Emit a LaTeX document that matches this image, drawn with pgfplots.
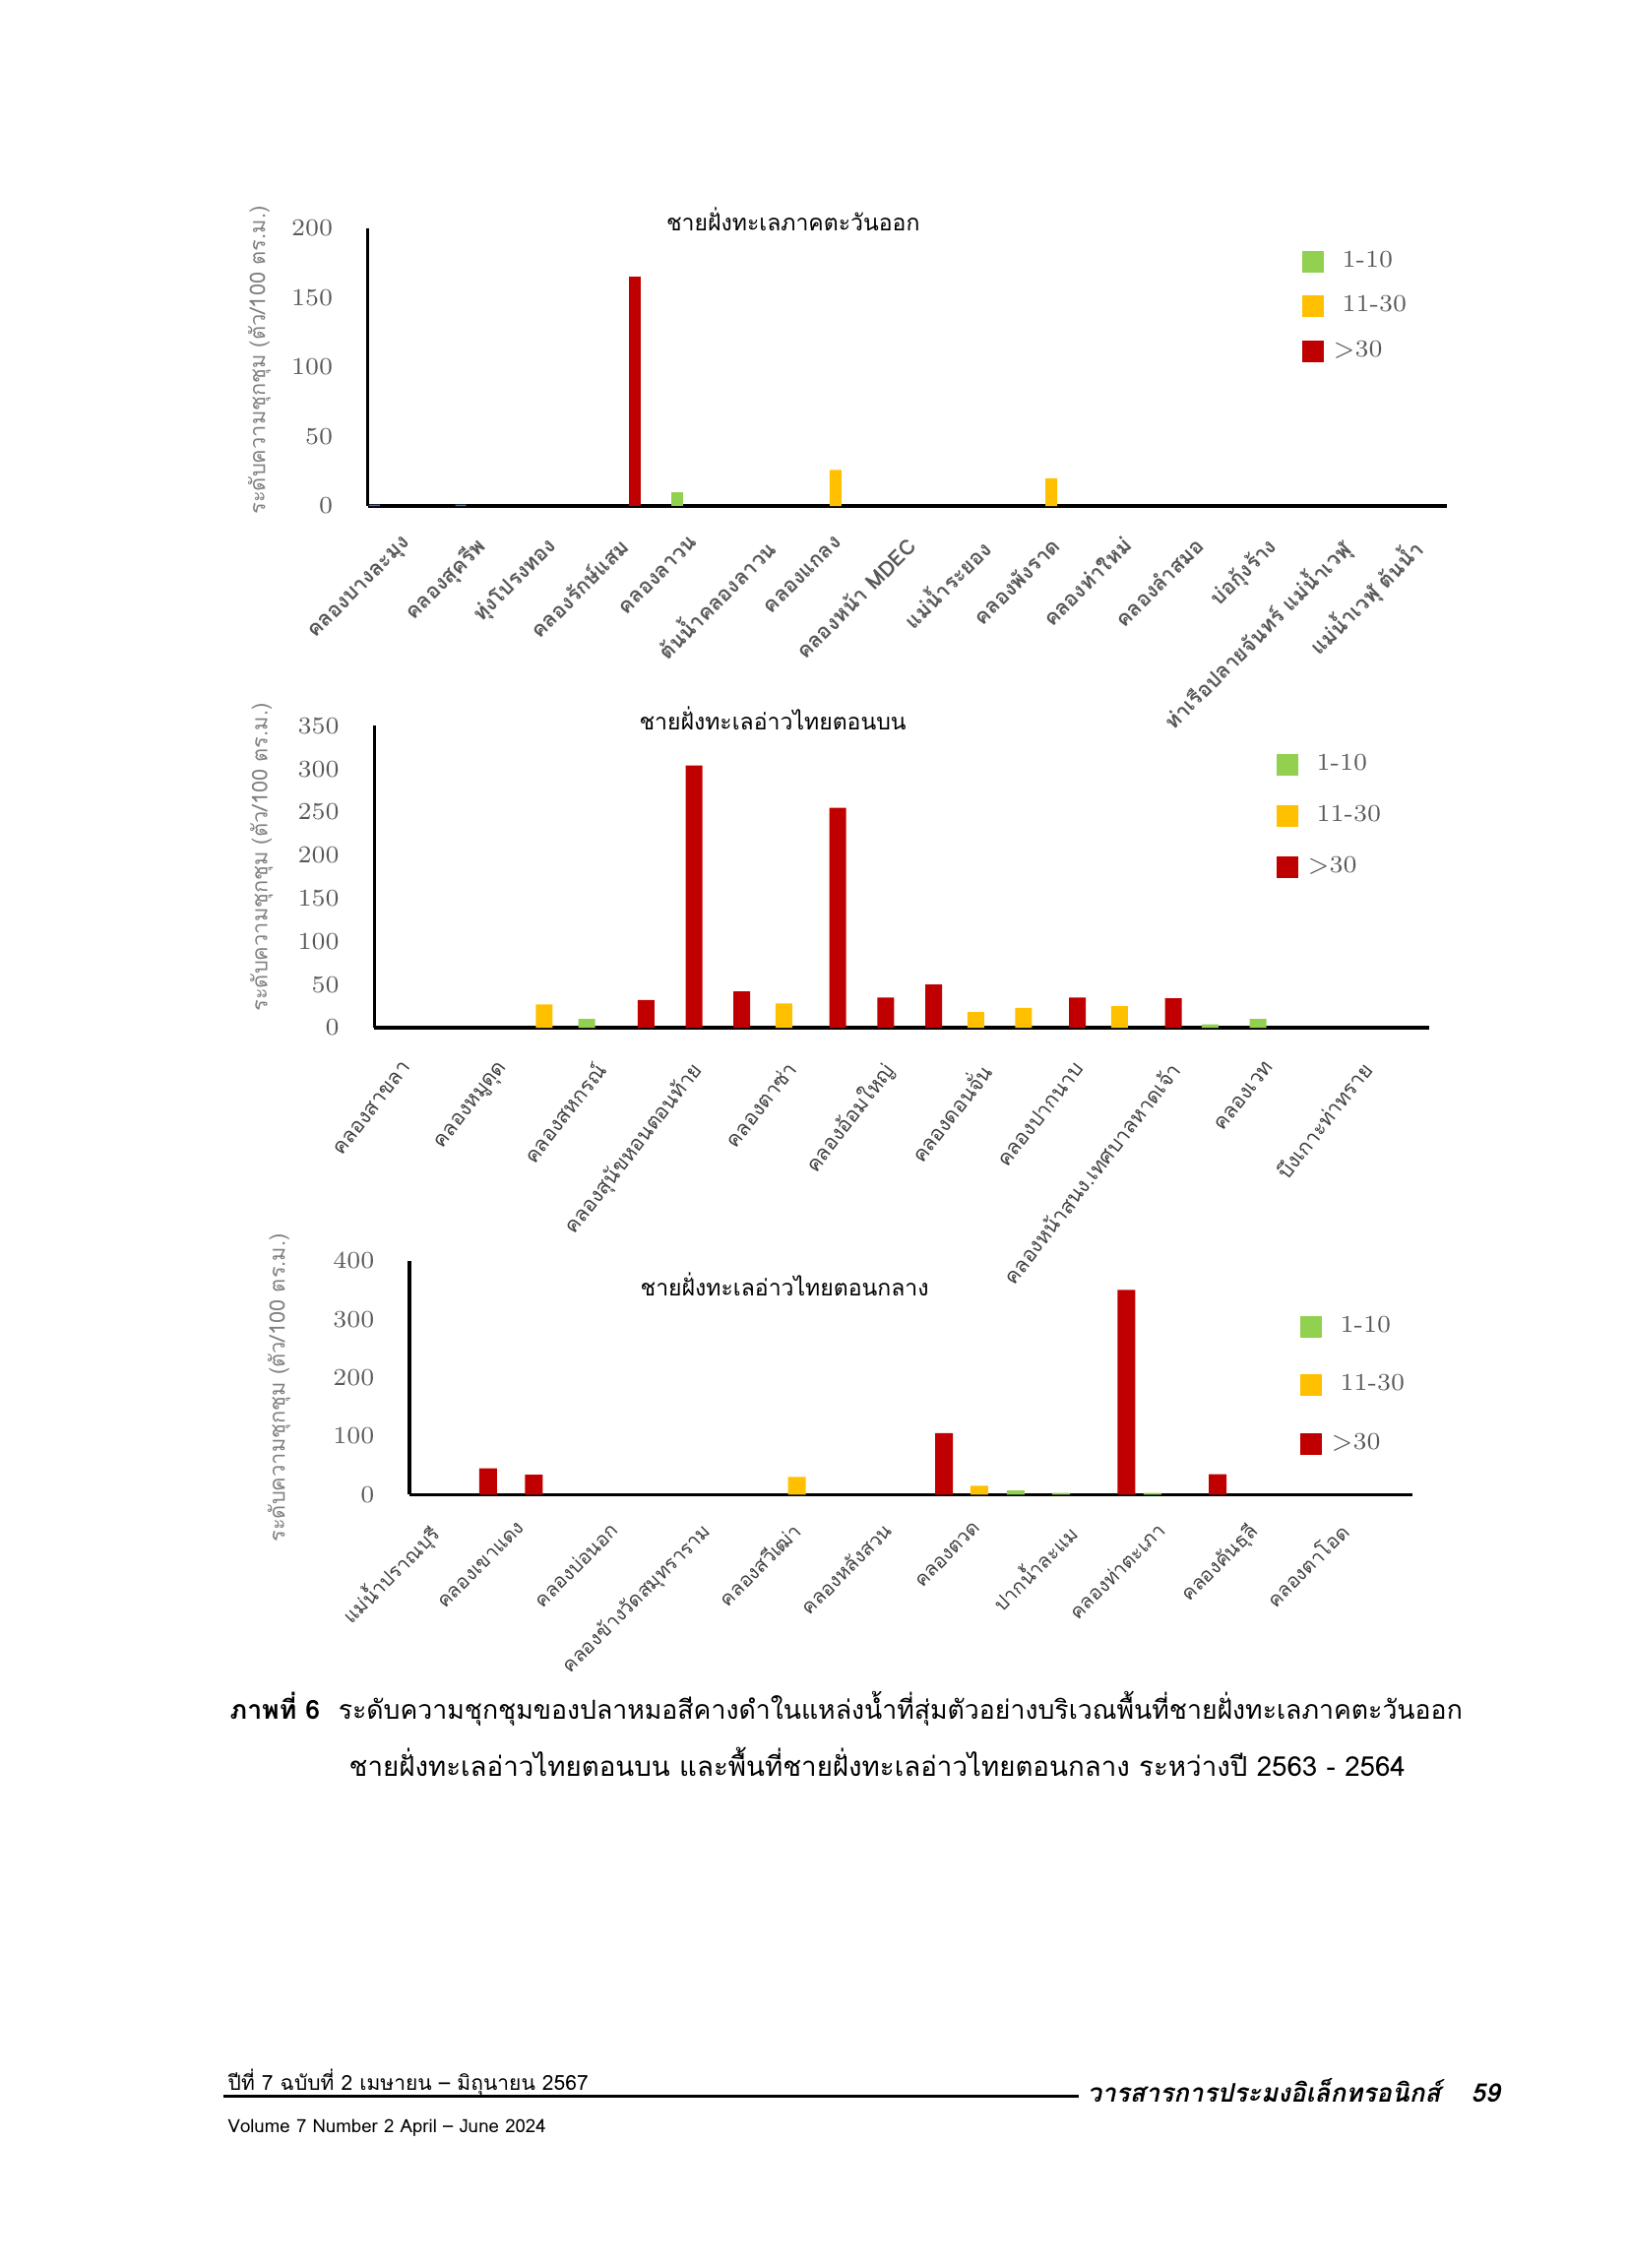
\documentclass[border=0pt]{standalone}
\usepackage{fontspec}
\usepackage{graphicx}
\usepackage{pgfplots}
\pgfplotsset{compat=1.18}
\newfontfamily\thai[Script=Thai]{Loma}
\definecolor{cgreen}{HTML}{92D050}
\definecolor{cyellow}{HTML}{FFC000}
\definecolor{cred}{HTML}{C00000}
\definecolor{cblue}{HTML}{4472C4}
\definecolor{tgray}{HTML}{595959}
\definecolor{dgray}{HTML}{404040}
\definecolor{lgray}{HTML}{808080}

\pgfplotsset{
  page chart/.style={
    scale only axis,
    anchor=south west,
    axis x line=bottom, axis y line=left,
    axis line style={-, black, line width=0.9pt},
    ybar,
    xmin=-0.5, ymin=0,
    major tick length=0pt,
    tick style={draw=none},
    yticklabel style={font=\fontsize{7.2}{8}\selectfont, text=tgray, inner sep=0pt, xshift=-3.5mm},
    /pgf/number format/1000 sep={},
    every axis y label/.style={at={(rel axis cs:-0.1,0.5)}, anchor=center, rotate=90, text=lgray, inner sep=0pt},
    legend style={draw=none, fill=none, inner sep=0pt, anchor=north west,
      font=\fontsize{7}{8}\selectfont, text=tgray, nodes={inner sep=0pt}},
    legend cell align=left,
    title style={font=\thai\fontsize{6.55}{8}\selectfont, anchor=center, inner sep=0pt},
  },
  sq/.style={legend image code/.code={\fill[##1] (0mm,-1.1mm) rectangle (2.2mm,1.1mm);}},
}

\begin{document}
\begin{tikzpicture}
\path[use as bounding box] (0,0) rectangle (165.4mm,-230.4mm);

% ---------------- chart 1 ----------------
\begin{axis}[page chart,
  at={(37.38mm,-51.40mm)}, width=109.64mm, height=28.23mm,
  xmax=14.5, ymax=200, ytick={0,50,...,200},
  xtick={0,...,14},
  xticklabels={คลองบางละมุง, คลองสุครีพ, ทุ่งโปรงทอง, คลองรักษ์แสม, คลองลาวน, ต้นน้ำคลองลาวน, คลองแกลง, คลองหน้า MDEC, แม่น้ำระยอง, คลองพังราด, คลองท่าใหม่, คลองลำสมอ, บ่อกุ้งร้าง, ท่าเรือปลายจันทร์ แม่น้ำเวฬุ, แม่น้ำเวฬุ ต้นน้ำ},
  xticklabel style={font=\thai\bfseries\fontsize{6.1}{7}\selectfont, text=tgray, inner sep=0pt, yshift=-2.9mm, xshift=-0.2mm, rotate=45, anchor=north east},
  title={ชายฝั่งทะเลภาคตะวันออก}, title style={at={(rel axis cs:0.394,0.956)}},
  ylabel={\resizebox{31.3mm}{!}{\thai ระดับความชุกชุม (ตัว/100 ตร.ม.)}},
  ylabel style={at={(rel axis cs:-0.1006,0.524)}},
  legend style={at={(rel axis cs:0.8648,0.921)}, row sep=2.35mm},
]
\addplot[fill=cblue, draw=none, bar width=1.1mm, bar shift=0mm, forget plot] coordinates {(-0.41,1) (0.79,1)};
\addplot[fill=cgreen, draw=none, bar width=1.2mm, bar shift=-1.5mm, sq] coordinates {(4,10)};
\addplot[fill=cyellow, draw=none, bar width=1.2mm, bar shift=0mm, sq] coordinates {(6,26) (9,20)};
\addplot[fill=cred, draw=none, bar width=1.2mm, bar shift=1.5mm, sq] coordinates {(3,165)};
\addlegendentry{\hspace*{1.9mm}1-10}
\addlegendentry{\hspace*{1.9mm}11-30}
\addlegendentry{\hspace*{1.0mm}>30}
\end{axis}

% ---------------- chart 2 ----------------
\begin{axis}[page chart,
  at={(38.04mm,-104.40mm)}, width=107.16mm, height=30.67mm,
  xmax=21.5, ymax=350, ytick={0,50,...,350},
  xtick={0,2,...,20},
  xticklabels={คลองสาขลา, คลองหมูดุด, คลองสหกรณ์, คลองสุนัขหอนตอนท้าย, คลองตาซ่า, คลองอ้อมใหญ่, คลองดอนจั่น, คลองปากนาบ, คลองหน้าสนง.เทศบาลหาดเจ้า, คลองเวท, บึงเกาะท่าทราย},
  xticklabel style={font=\thai\fontsize{6}{7}\selectfont, text=dgray, inner sep=0pt, yshift=-3.2mm, xshift=0.3mm, rotate=52, anchor=north east},
  title={ชายฝั่งทะเลอ่าวไทยตอนบน}, title style={at={(rel axis cs:0.3776,0.955)}},
  ylabel={\resizebox{31.3mm}{!}{\thai ระดับความชุกชุม (ตัว/100 ตร.ม.)}},
  ylabel style={at={(rel axis cs:-0.107,0.564)}},
  legend style={at={(rel axis cs:0.8544,0.910)}, row sep=3.0mm},
]
\addplot[fill=cgreen, draw=none, bar width=1.7mm, bar shift=-0.35mm, sq] coordinates {(4,10) (17,4) (18,10)};
\addplot[fill=cyellow, draw=none, bar width=1.7mm, bar shift=0.2mm, sq] coordinates {(3,27) (8,28) (12,18) (13,23) (15,25)};
\addplot[fill=cred, draw=none, bar width=1.7mm, bar shift=0.8mm, sq] coordinates {(5,32) (6,304) (7,42) (9,255) (10,35) (11,50) (14,35) (16,34)};
\addlegendentry{\hspace*{1.9mm}1-10}
\addlegendentry{\hspace*{1.9mm}11-30}
\addlegendentry{\hspace*{1.0mm}>30}
\end{axis}

% ---------------- chart 3 ----------------
\begin{axis}[page chart,
  at={(41.60mm,-151.83mm)}, width=101.90mm, height=23.76mm,
  xmax=21.5, ymax=400, ytick={0,100,...,400},
  xtick={0,2,...,20},
  xticklabels={แม่น้ำปราณบุรี, คลองเขาแดง, คลองบ่อนอก, คลองข้างวัดสมุทราราม, คลองสวีเฒ่า, คลองหลังสวน, คลองตวด, ปากน้ำละแม, คลองท่าตะเภา, คลองคันธุลี, คลองตาโอด},
  xticklabel style={font=\thai\fontsize{5.7}{7}\selectfont, text=dgray, inner sep=0pt, yshift=-2.6mm, xshift=-0.6mm, rotate=45, anchor=north east},
  title={ชายฝั่งทะเลอ่าวไทยตอนกลาง}, title style={at={(rel axis cs:0.374,0.810)}},
  ylabel={\resizebox{31.3mm}{!}{\thai ระดับความชุกชุม (ตัว/100 ตร.ม.)}},
  ylabel style={at={(rel axis cs:-0.130,0.456)}},
  legend style={at={(rel axis cs:0.887,0.767)}, row sep=3.75mm},
]
\addplot[fill=cgreen, draw=none, bar width=1.8mm, bar shift=-0.95mm, sq] coordinates {(13,7) (14,3) (16,3)};
\addplot[fill=cyellow, draw=none, bar width=1.8mm, bar shift=0mm, sq] coordinates {(8,30) (12,15)};
\addplot[fill=cred, draw=none, bar width=1.8mm, bar shift=1.05mm, sq] coordinates {(1,45) (2,34) (11,105) (15,350) (17,35)};
\addlegendentry{\hspace*{1.9mm}1-10}
\addlegendentry{\hspace*{1.9mm}11-30}
\addlegendentry{\hspace*{1.0mm}>30}
\end{axis}

% ---------------- caption ----------------
\node[anchor=base west, inner sep=0pt] at (23.3mm,-174.6mm)
  {\resizebox{125.2mm}{!}{\thai\textbf{ภาพที่ 6}\hspace{0.7em}ระดับความชุกชุมของปลาหมอสีคางดำในแหล่งน้ำที่สุ่มตัวอย่างบริเวณพื้นที่ชายฝั่งทะเลภาคตะวันออก}};
\node[anchor=base west, inner sep=0pt] at (35.4mm,-180.4mm)
  {\resizebox{107.3mm}{!}{\thai ชายฝั่งทะเลอ่าวไทยตอนบน และพื้นที่ชายฝั่งทะเลอ่าวไทยตอนกลาง ระหว่างปี 2563 - 2564}};

% ---------------- footer ----------------
\node[anchor=base west, inner sep=0pt] at (23.1mm,-212.3mm)
  {\resizebox{36.6mm}{!}{\thai ปีที่ 7 ฉบับที่ 2 เมษายน – มิถุนายน 2567}};
\draw[line width=0.3mm] (22.7mm,-212.9mm) -- (109.6mm,-212.9mm);
\node[anchor=base west, inner sep=0pt] at (110.4mm,-213.5mm)
  {\resizebox{41.9mm}{!}{\thai\bfseries\itshape วารสารการประมงอิเล็กทรอนิกส์\hspace{1.2em}59}};
\node[anchor=base west, inner sep=0pt] at (23.1mm,-216.6mm)
  {\resizebox{32.3mm}{!}{\thai Volume 7 Number 2 April – June 2024}};
\end{tikzpicture}
\end{document}
